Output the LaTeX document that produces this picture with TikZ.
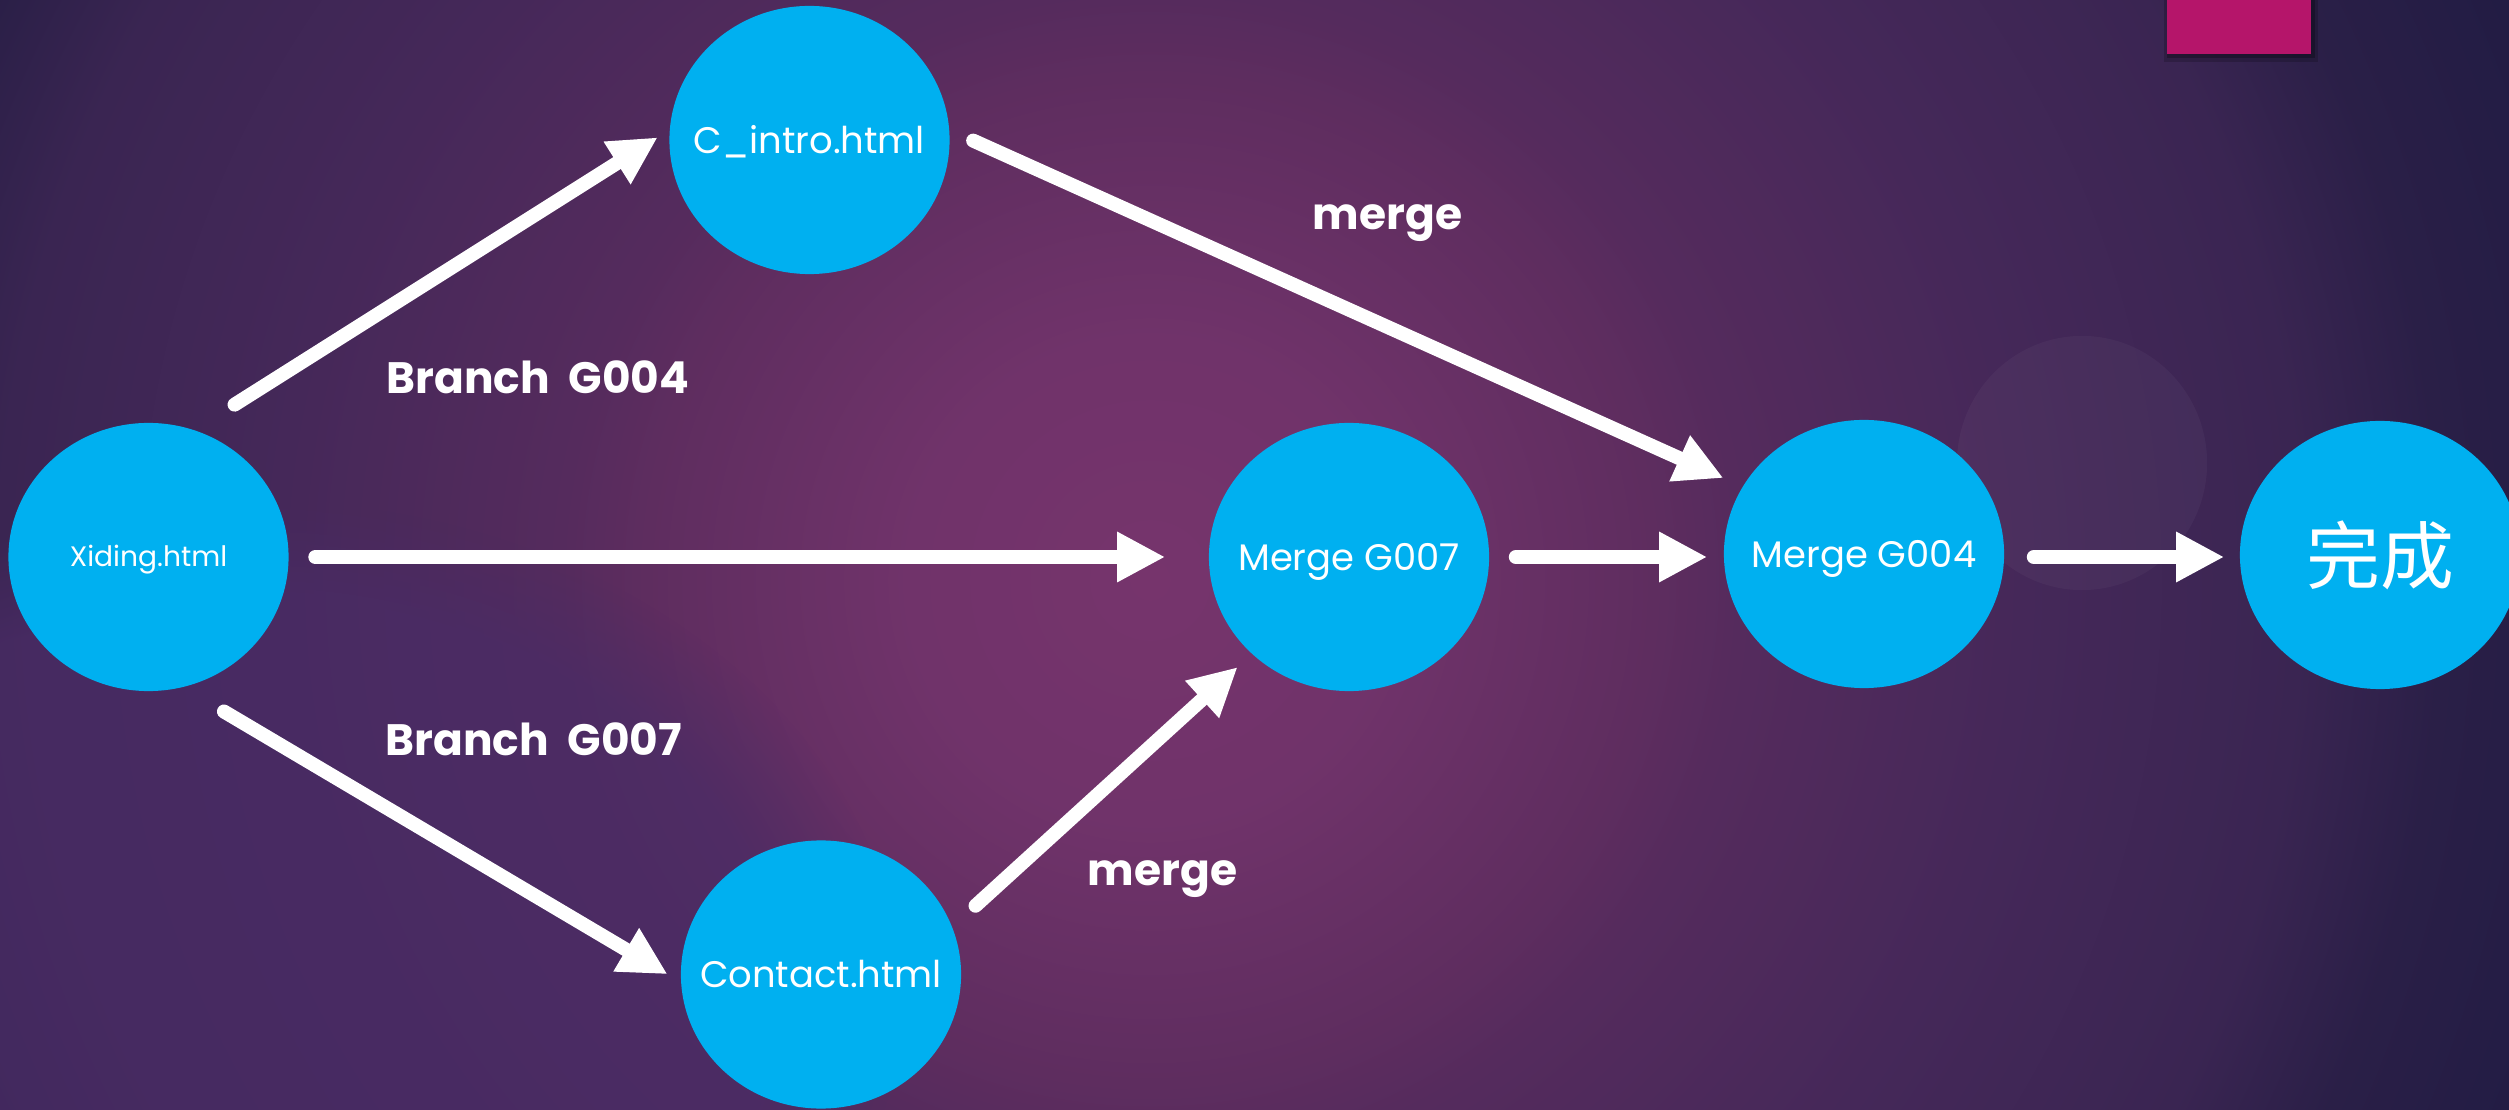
\documentclass[tikz,border=0pt]{standalone}
\usepackage{fontspec}
\setmainfont{Poppins}
\newfontfamily\cjkfont{Noto Sans CJK SC}
\usetikzlibrary{shapes.geometric,arrows.meta,fadings}
\definecolor{nodeblue}{HTML}{00B0F0}
\definecolor{pinkbox}{HTML}{B5156A}
\definecolor{glow}{HTML}{4A2C66}
\definecolor{bgA}{HTML}{76346C}
\definecolor{bgB}{HTML}{70336A}
\definecolor{bgC}{HTML}{5E2D5F}
\definecolor{bgD}{HTML}{552B5D}
\definecolor{bgE}{HTML}{452859}
\definecolor{bgF}{HTML}{3A2552}
\definecolor{bgG}{HTML}{2A1F47}
\definecolor{bgH}{HTML}{221C44}
% radii in real bp (1 px of the picture = 0.01cm = 0.2835bp)
\pgfdeclareradialshading{bgshade}{\pgfpointorigin}{color(0bp)=(bgA); color(68bp)=(bgB); color(143bp)=(bgC); color(167bp)=(bgD); color(247bp)=(bgE); color(326bp)=(bgF); color(366bp)=(bgG); color(417bp)=(bgH); color(567bp)=(bgH)}
\begin{document}
\begin{tikzpicture}[x=0.01cm,y=-0.01cm,
  bubble/.style={ellipse, fill=nodeblue, text=white, minimum width=2.8cm, minimum height=2.68cm,
    inner sep=0pt, text height=7.4pt, text depth=0pt, font=\fontsize{10.5}{12}\selectfont},
  lbl/.style={text=white, inner sep=0pt, anchor=base west, font=\bfseries\fontsize{12.5}{14}\selectfont},
  flow/.style={draw=white, line width=0.14cm, line cap=round, -{Triangle[length=0.48cm,width=0.47cm]}}]
\useasboundingbox (0,0) rectangle (2509,1110);
\begin{scope}
  \clip (0,0) rectangle (2509,1110);
  \node[inner sep=0pt, outer sep=0pt] (bg) at (1150,580) {\pgfuseshading{bgshade}};
  \fill[glow, opacity=0.75, path fading=circle with fuzzy edge 20 percent] (250,1000) ellipse [x radius=6.5cm, y radius=5cm];
  \fill[white, opacity=0.035] (2082,463) ellipse [x radius=1.25cm, y radius=1.27cm];
  \fill[black, opacity=0.18] (2164,0) rectangle (2318,62);
  \fill[black, opacity=0.25] (2167,0) rectangle (2315,58);
  \fill[pinkbox] (2167,0) rectangle (2311,54);
\end{scope}

\node[bubble, font=\fontsize{8}{10}\selectfont, text height=5.6pt] (x) at (148.5,557) {\makebox[0pt]{Xiding.html}};
\node[bubble] (c) at (809.5,140) {\makebox[0pt]{C\_intro.html}};
\node[bubble] (ct) at (821,974.5) {\makebox[0pt]{Contact.html}};
\node[bubble] (m7) at (1349,557) {\makebox[0pt]{Merge G007}};
\node[bubble] (m4) at (1864,554) {\makebox[0pt]{Merge G004}};
\node[bubble, font=\cjkfont\fontsize{21}{24}\selectfont, text height=16pt] (done) at (2380,555) {\makebox[0pt]{完成}};

\draw[flow, shorten <=0.47cm, shorten >=0.135cm] (x.70.7) -- (c.176.6);
\draw[flow, shorten <=0.26cm, shorten >=0.43cm] (x.east) -- (m7.west);
\draw[flow, shorten <=0.47cm, shorten >=0.15cm] (x.-75.8) -- (ct.183.3);
\draw[flow, shorten <=0.31cm, shorten >=0.19cm] (ct.20) -- (m7.225.4);
\draw[flow, shorten <=0.255cm, shorten >=0.205cm] (c.4.7) -- (m4.151);
\draw[flow, shorten <=0.26cm, shorten >=0.16cm] (m7.east) -- (m4.west |- m7.east);
\draw[flow, shorten <=0.29cm, shorten >=0.15cm] (m4.east |- m7.east) -- (done.west |- m7.east);

\node[lbl] (bg4) at (386,394) {Branch\ \ G004};
\node[lbl] (bg7) at (385,755) {Branch\ \ G007};
\node[lbl] (mg1) at (1312,230) {merge};
\node[lbl] (mg2) at (1087,885) {merge};
\end{tikzpicture}
\end{document}
